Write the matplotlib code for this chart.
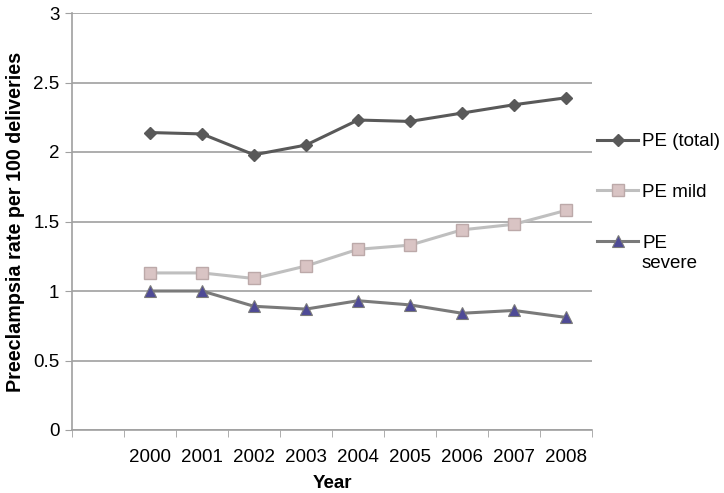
import matplotlib
matplotlib.use("Agg")
import matplotlib.pyplot as plt

plt.rcParams['font.family'] = ['Liberation Sans', 'DejaVu Sans']

categories = ["", "2000", "2001", "2002", "2003", "2004", "2005", "2006", "2007", "2008"]
years = categories[1:]
pe_total = [2.14, 2.13, 1.98, 2.05, 2.23, 2.22, 2.28, 2.34, 2.39]
pe_mild = [1.13, 1.13, 1.09, 1.18, 1.30, 1.33, 1.44, 1.48, 1.58]
pe_severe = [1.00, 1.00, 0.89, 0.87, 0.93, 0.90, 0.84, 0.86, 0.81]
yticks = [0, 0.5, 1, 1.5, 2, 2.5, 3]
ytick_labels = ["0", "0.5", "1", "1.5", "2", "2.5", "3"]

W, H = 724, 493
fig = plt.figure(figsize=(W/100, H/100), dpi=100)
ax = fig.add_axes([72/W, 63/H, 520/W, 417/H])

x = list(range(1, len(categories)))
ax.plot(x, pe_total, color="#595959", lw=2.2, marker="D", ms=6.5,
        mfc="#595959", mec="#595959", label="PE (total)", zorder=3)
ax.plot(x, pe_mild, color="#BFBFBF", lw=2.2, marker="s", ms=9,
        mfc="#D9C4C4", mec="#BCA9A9", mew=1, label="PE mild", zorder=3)
ax.plot(x, pe_severe, color="#7A7A7A", lw=2.2, marker="^", ms=8.5,
        mfc="#4E4A96", mec="#7A7A7A", mew=0.8, label="PE", zorder=3)

ax.set_xlim(-0.5, len(categories) - 0.5)
ax.set_ylim(0, 3)
ax.set_yticks(yticks)
ax.set_yticklabels(ytick_labels)
ax.set_xticks(range(len(categories)))
ax.set_xticklabels(categories)
ax.set_xticks([i - 0.5 for i in range(len(categories) + 1)], minor=True)
ax.tick_params(axis="x", which="major", length=0, pad=14, labelsize=13.5)
ax.tick_params(axis="x", which="minor", length=5, color="#A0A0A0", direction="out")
ax.tick_params(axis="y", length=5, color="#A0A0A0", direction="out", labelsize=13.5, pad=4)

ax.grid(axis="y", color="#A0A0A0", lw=1.2)
ax.set_axisbelow(True)
for s in ["top", "right"]:
    ax.spines[s].set_visible(False)
for s in ["left", "bottom"]:
    ax.spines[s].set_color("#A0A0A0")
    ax.spines[s].set_linewidth(1.2)

ax.set_xlabel("Year", fontsize=13.5, fontweight="bold", labelpad=6)
ax.set_ylabel("Preeclampsia rate per 100 deliveries", fontsize=14.2, fontweight="bold", labelpad=6)

leg = ax.legend(loc="upper left", bbox_to_anchor=(597/W, 1 - 133/H), bbox_transform=fig.transFigure,
                frameon=False, fontsize=13.5, handlelength=2.2, handletextpad=0.2,
                labelspacing=1.8, borderaxespad=0, borderpad=0)

fig.canvas.draw()
bb = leg.get_texts()[2].get_window_extent()
fig.text(bb.x0 / W, (bb.y0 - 3) / H, "severe", ha="left", va="top", fontsize=13.5)

fig.savefig("out.png", dpi=100)
